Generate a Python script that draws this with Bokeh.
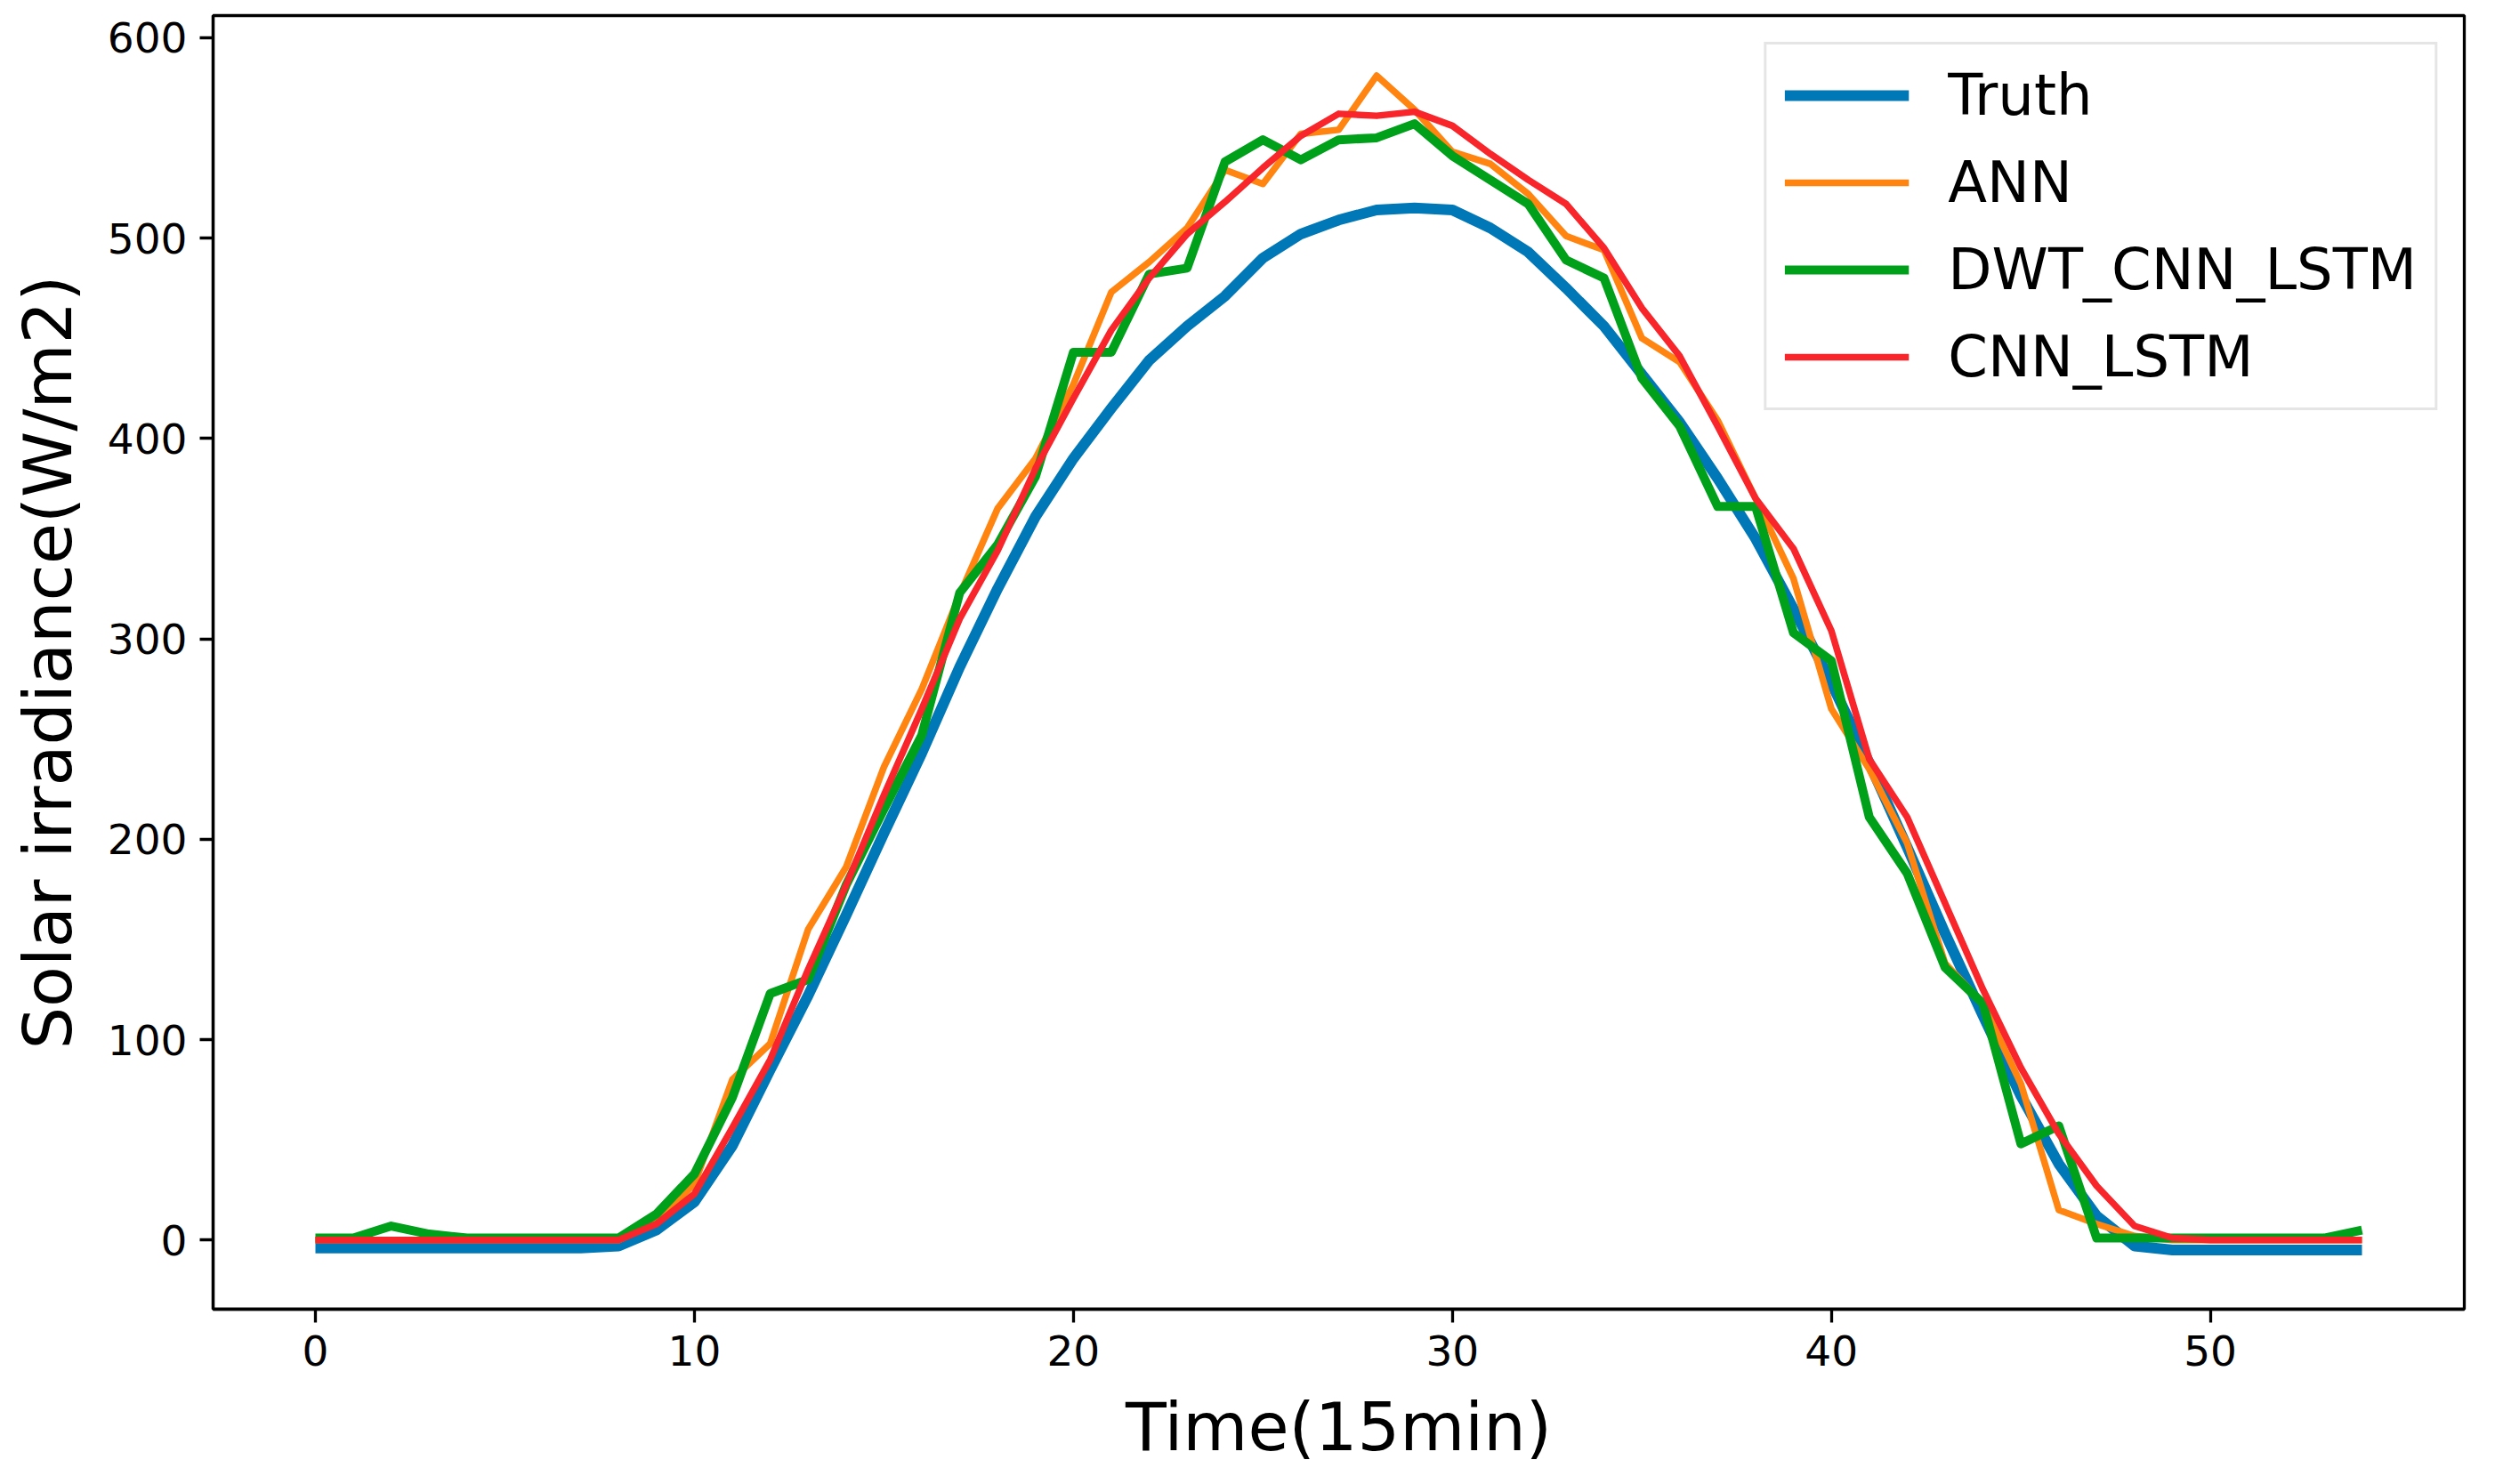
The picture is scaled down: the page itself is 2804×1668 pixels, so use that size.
from bokeh.plotting import figure
from bokeh.models import Range1d, Legend, LegendItem
from bokeh.embed import file_html
from bokeh.resources import INLINE

time_steps = list(range(55))

truth = [-4, -4, -4, -4, -4, -4, -4, -4, -3, 5,
         19, 47, 85, 122, 162, 203, 243, 286, 325, 361,
         390, 415, 439, 456, 471, 490, 502, 509, 514, 515,
         514, 505, 493, 475, 456, 432, 408, 380, 350, 315,
         278, 238, 196, 153, 112, 72, 38, 12, -3, -5,
         -5, -5, -5, -5, -5]

ann = [0, 0, 0, 0, 0, 0, 0, 0, 0, 9,
       28, 80, 98, 155, 186, 236, 275, 322, 365, 390,
       427, 473, 488, 505, 534, 527, 552, 554, 581, 564,
       543, 537, 522, 501, 494, 450, 438, 409, 370, 330,
       265, 235, 198, 138, 118, 78, 15, 8, 2, 0,
       0, 0, 0, 0, 0]

dwt_cnn_lstm = [1, 1, 7, 3, 1, 1, 1, 1, 1, 13,
                33, 71, 123, 130, 177, 215, 252, 323, 347, 381,
                443, 443, 482, 485, 538, 549, 539, 549, 550, 557,
                541, 529, 517, 489, 480, 430, 406, 366, 366, 303,
                289, 211, 183, 136, 118, 48, 57, 1, 1, 1,
                1, 1, 1, 1, 5]

cnn_lstm = [0, 0, 0, 0, 0, 0, 0, 0, 0, 8,
            23, 56, 90, 135, 177, 222, 265, 310, 344, 385,
            420, 454, 480, 502, 518, 535, 551, 562, 561, 563,
            556, 542, 529, 517, 495, 465, 441, 406, 370, 345,
            304, 240, 211, 168, 125, 86, 53, 27, 7, 1,
            0, 0, 0, 0, 0]

x_ticks = [0, 10, 20, 30, 40, 50]
y_ticks = [0, 100, 200, 300, 400, 500, 600]

FONT = "DejaVu Sans"

p = figure(width=2788, height=1652, output_backend="svg", toolbar_location=None,
           x_range=Range1d(-2.7, 56.7), y_range=Range1d(-34.5, 611),
           min_border_left=239, min_border_right=19, min_border_top=17,
           min_border_bottom=181)
p.grid.visible = False
p.background_fill_color = "white"
p.border_fill_color = "white"
p.outline_line_color = "black"
p.outline_line_width = 3.3

for ax in (p.xaxis, p.yaxis):
    ax.axis_line_width = 3.3
    ax.axis_line_color = "black"
    ax.major_tick_line_width = 3.3
    ax.major_tick_line_color = "black"
    ax.major_tick_out = 15
    ax.major_tick_in = 0
    ax.minor_tick_line_color = None
    ax.major_label_text_font = FONT
    ax.major_label_text_font_size = "47px"
    ax.major_label_text_color = "black"
    ax.major_label_standoff = 14
    ax.axis_label_text_font = FONT
    ax.axis_label_text_font_size = "75px"
    ax.axis_label_text_font_style = "normal"
    ax.axis_label_text_color = "black"

p.xaxis.ticker = x_ticks
p.yaxis.ticker = y_ticks
p.xaxis.axis_label = "Time(15min)"
p.yaxis.axis_label = "Solar irradiance(W/m2)"
p.xaxis.axis_label_standoff = 22
p.yaxis.axis_label_standoff = 20

r1 = p.line(time_steps, truth, line_color="#0077B6", line_width=12, line_join="round")
r2 = p.line(time_steps, ann, line_color="#FF8410", line_width=7.5, line_join="round")
r3 = p.line(time_steps, dwt_cnn_lstm, line_color="#00A01A", line_width=10, line_join="round")
r4 = p.line(time_steps, cnn_lstm, line_color="#F8252A", line_width=7.5, line_join="round")

legend = Legend(items=[LegendItem(label="Truth", renderers=[r1]),
                       LegendItem(label="ANN", renderers=[r2]),
                       LegendItem(label="DWT_CNN_LSTM", renderers=[r3]),
                       LegendItem(label="CNN_LSTM", renderers=[r4])],
                location="top_right")
legend.label_text_font = FONT
legend.label_text_font_size = "64px"
legend.label_text_color = "black"
legend.glyph_width = 140
legend.glyph_height = 74
legend.label_standoff = 44
legend.spacing = 24
legend.padding = 20
legend.margin = 30
legend.border_line_color = "#cccccc"
legend.border_line_width = 3
legend.background_fill_alpha = 0.8
p.add_layout(legend)

open("out.html", "w").write(file_html(p, INLINE))
